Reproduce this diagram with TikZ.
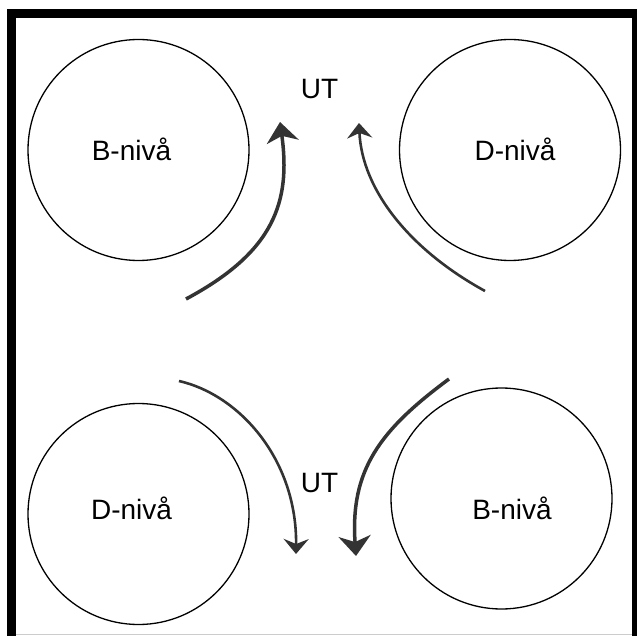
\documentclass[tikz,border=0pt]{standalone}
\usepackage{fontspec}
\setmainfont{Liberation Sans}
\usetikzlibrary{arrows.meta}
\definecolor{arrowgray}{HTML}{333333}

\begin{document}
\begin{tikzpicture}[x=1pt, y=-1pt,
    ring/.style={draw, circle, line width=1.3pt, minimum size=221pt, inner sep=0pt},
    lbl/.style={font=\fontsize{28}{32}\selectfont, inner sep=0pt, anchor=base},
    bigarr/.style={draw=arrowgray, line width=3.5pt, -{Stealth[length=20pt, width=32pt, inset=6pt]}},
    smallarr/.style={draw=arrowgray, line width=2.6pt, -{Stealth[length=15pt, width=25pt, inset=5pt]}}]
    \useasboundingbox (0,0) rectangle (637,636);

    % frame
    \draw[line width=9pt] (11.5,645) -- (11.5,14) -- (636,14) -- (636,645);
    \draw[gray!40, line width=1.5pt] (16,634.5) -- (632,634.5);

    % levels
    \node[ring] (b1) at (138.5,150) {};
    \node[ring] (d1) at (510,150) {};
    \node[ring] (d2) at (138.5,514) {};
    \node[ring] (b2) at (501.5,498.5) {};

    \node[lbl] (b1t) at (131.5,161) {B-nivå};
    \node[lbl] (d1t) at (515,161) {D-nivå};
    \node[lbl] (d2t) at (131.5,519) {D-nivå};
    \node[lbl] (b2t) at (512,519) {B-nivå};

    \node[lbl] (ut1) at (319.5,98.5) {UT};
    \node[lbl] (ut2) at (319.5,492) {UT};

    % arrow ends
    \coordinate (s1) at (186,299);
    \coordinate (e1) at (280,122);
    \coordinate (s2) at (485,291);
    \coordinate (e2) at (359,123);
    \coordinate (s3) at (179,381);
    \coordinate (e3) at (296,554);
    \coordinate (s4) at (449,379);
    \coordinate (e4) at (356,556);

    \draw[bigarr] (s1) .. controls (274,252) and (291,202) .. (e1);
    \draw[smallarr] (s2) .. controls (410,250) and (362,190) .. (e2);
    \draw[smallarr] (s3) .. controls (240,395) and (297,460) .. (e3);
    \draw[bigarr] (s4) .. controls (380,430) and (350,470) .. (e4);
\end{tikzpicture}
\end{document}
